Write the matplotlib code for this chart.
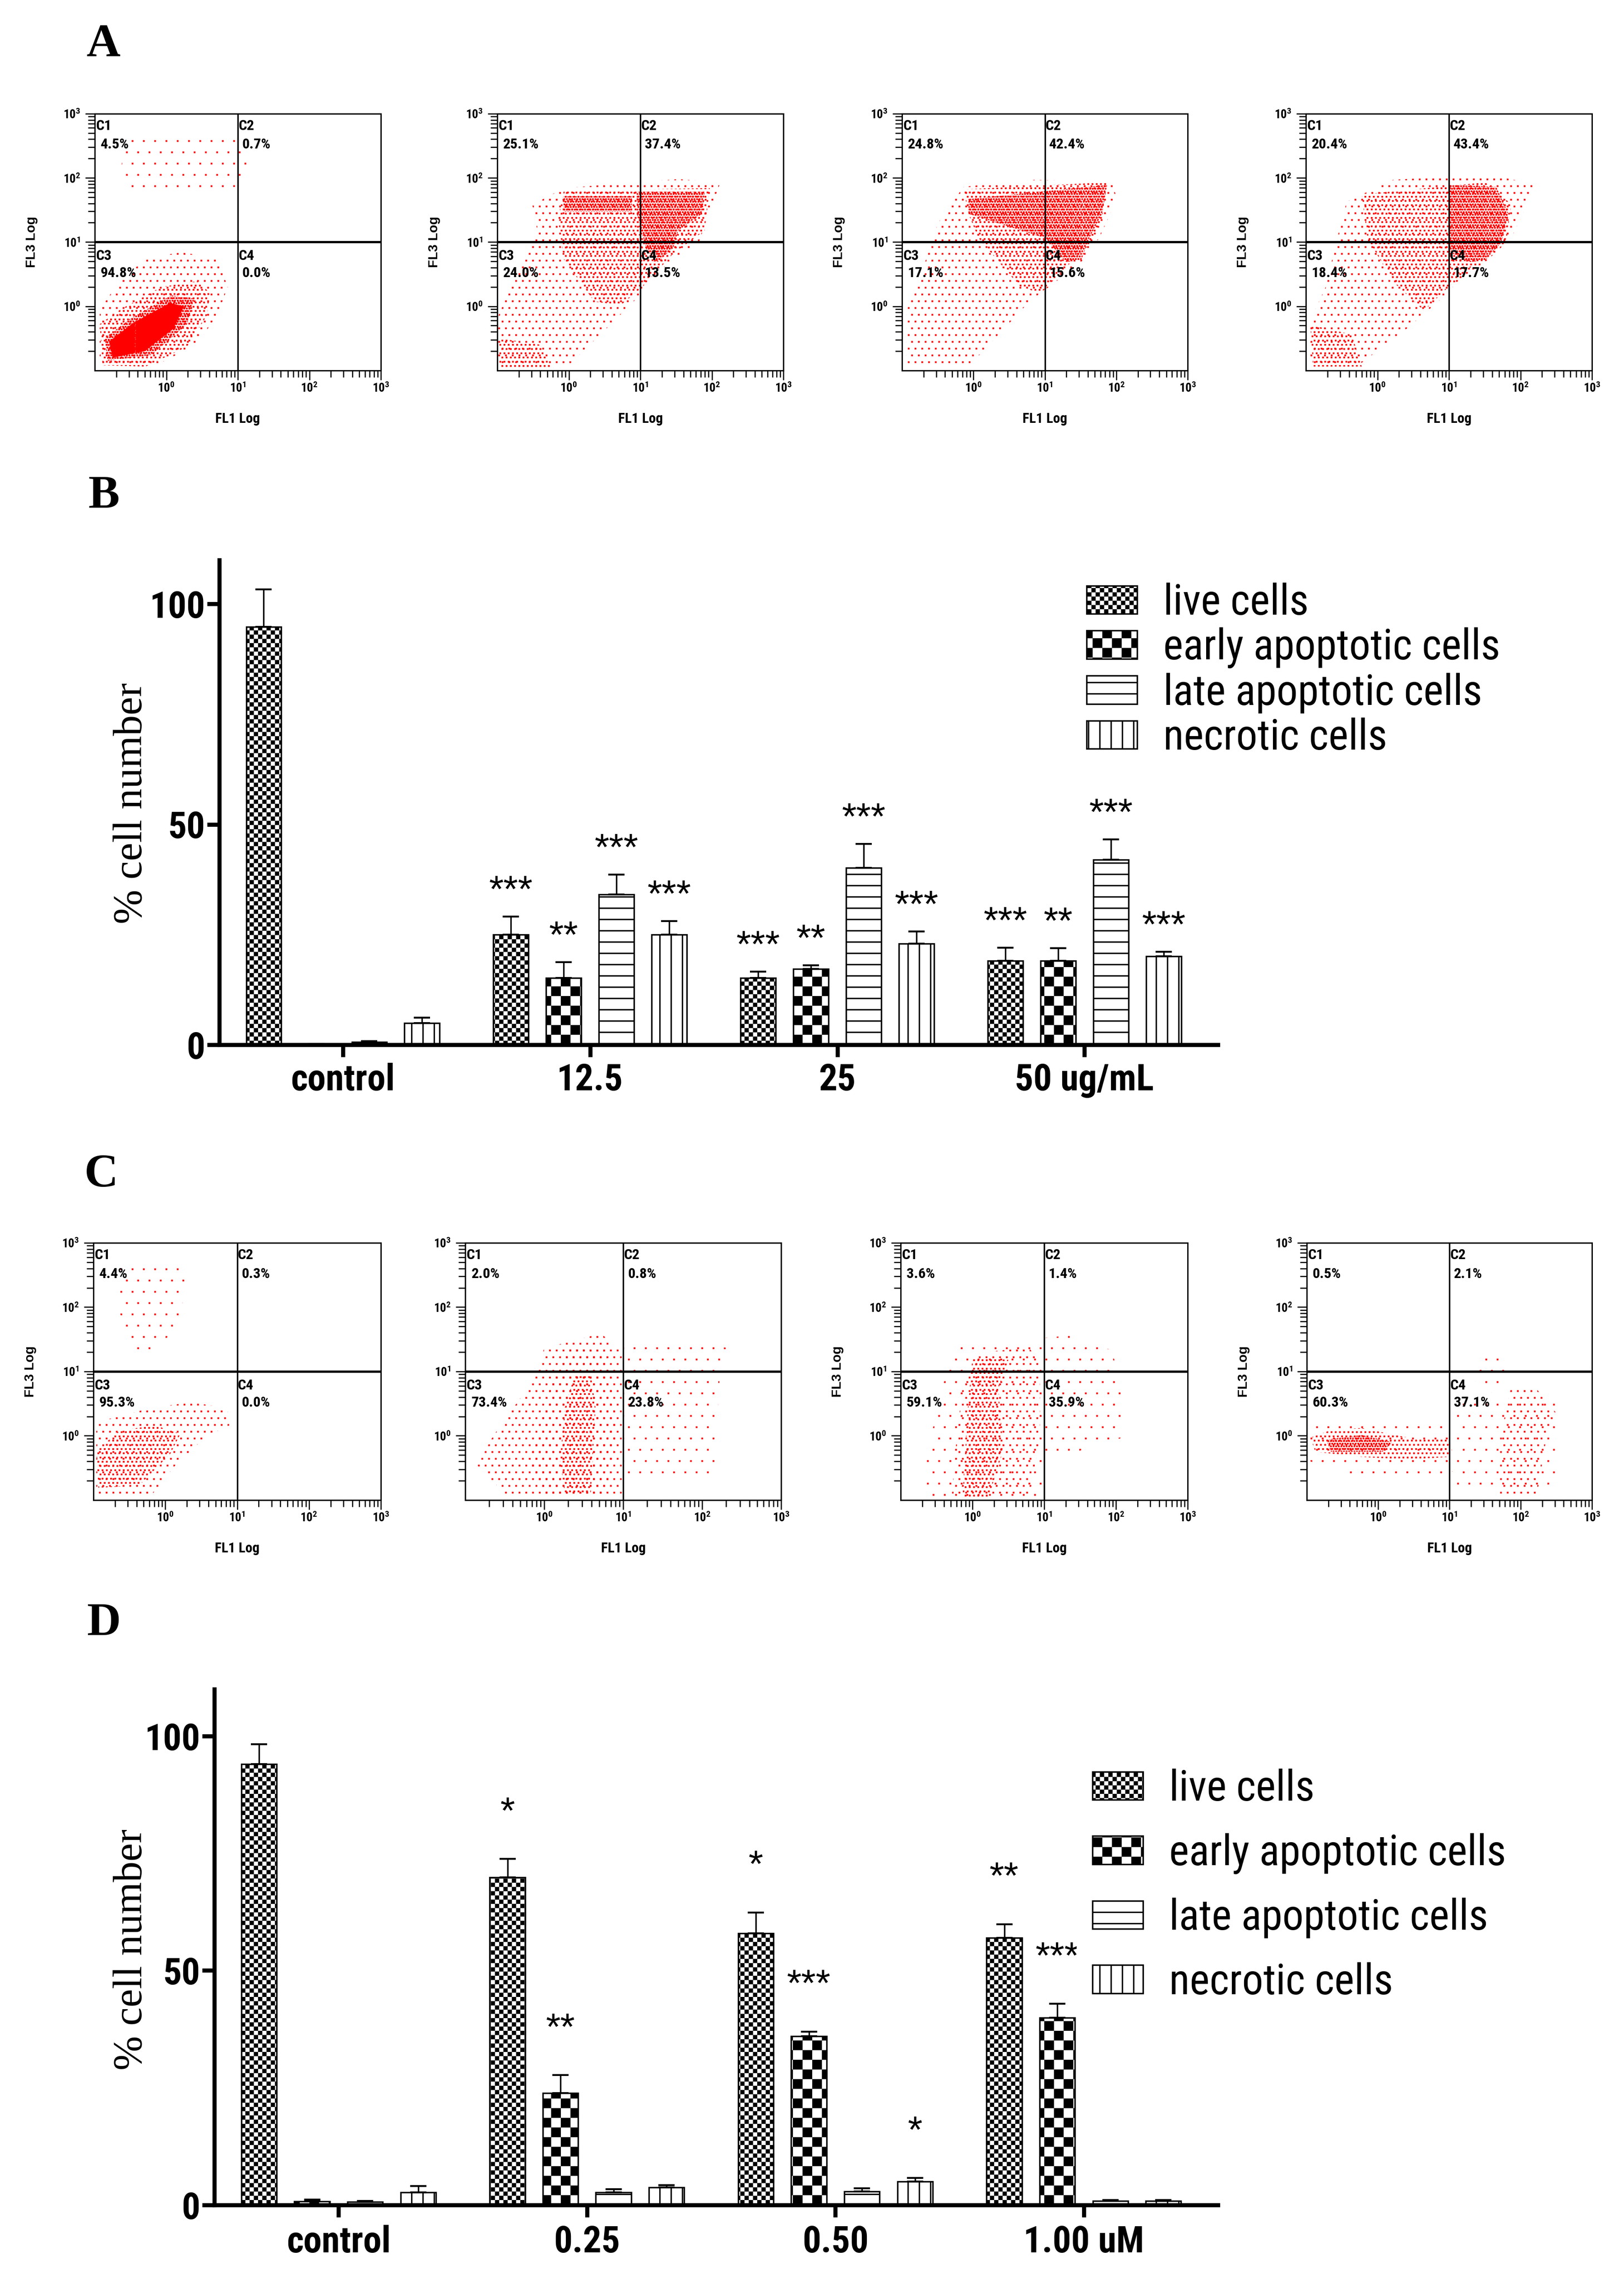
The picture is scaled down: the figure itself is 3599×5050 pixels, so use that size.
import warnings
import numpy as np
import matplotlib
matplotlib.use('Agg')
import matplotlib.pyplot as plt
import matplotlib.hatch as mhatch
from matplotlib.path import Path
from matplotlib.patches import Polygon, Patch
from matplotlib import font_manager
from matplotlib.ticker import FixedLocator, LogLocator, NullFormatter, LogFormatterMathtext

warnings.filterwarnings('ignore')

# ---------------- data ----------------
quadrant_names = ['C1', 'C2', 'C3', 'C4']
pct_ug = [[4.5, 0.7, 94.8, 0.0],
          [25.1, 37.4, 24.0, 13.5],
          [24.8, 42.4, 17.1, 15.6],
          [20.4, 43.4, 18.4, 17.7]]
pct_um = [[4.4, 0.3, 95.3, 0.0],
          [2.0, 0.8, 73.4, 23.8],
          [3.6, 1.4, 59.1, 35.9],
          [0.5, 2.1, 60.3, 37.1]]

# event clouds: (density level, outline in log10(FL1), log10(FL3))
cloud_ug_ctrl = [
    (1, [(-0.57, 2.66), (0.21, 2.7), (0.93, 2.66), (1.21, 2.17), (1.0, 1.86), (0.29, 1.81), (-0.5, 1.72), (-0.64, 2.08)]),
    (2, [(-0.93, -0.94), (-0.21, -0.96), (0.43, -0.59), (0.71, -0.14), (0.86, 0.3), (0.71, 0.75), (0.21, 0.84), (-0.29, 0.75), (-0.71, 0.3), (-0.93, -0.05)]),
    (3, [(-0.89, -0.92), (-0.29, -0.94), (0.29, -0.63), (0.57, -0.14), (0.61, 0.21), (0.43, 0.39), (-0.07, 0.3), (-0.64, -0.05), (-0.93, -0.28)]),
    (4, [(-0.82, -0.85), (-0.21, -0.76), (0.29, -0.28), (0.39, 0.12), (0.07, 0.17), (-0.5, -0.19), (-0.86, -0.5)]),
    (5, [(-0.75, -0.8), (-0.3, -0.7), (0.1, -0.35), (0.25, 0.0), (0.05, 0.05), (-0.45, -0.25), (-0.8, -0.55)]),
]
cloud_ug_125 = [
    (2, [(-0.99, -0.96), (-0.04, -0.96), (0.58, -0.29), (1.02, 0.2), (1.09, 0.38), (1.46, 0.73), (1.82, 1.0), (1.93, 1.36), (2.12, 1.93), (1.53, 1.98), (-0.07, 1.84), (-0.51, 1.58), (-0.44, 1.18), (-0.73, 0.51), (-0.99, -0.16)]),
    (3, [(-0.97, -0.5), (-0.4, -0.6), (-0.25, -0.95), (-0.97, -0.95)]),
    (3, [(-0.07, 1.8), (1.97, 1.84), (1.9, 1.18), (1.46, 0.82), (1.02, 0.29), (0.73, 0.02), (0.36, 0.07), (-0.07, 0.73), (-0.15, 1.36)]),
    (4, [(-0.07, 1.71), (0.88, 1.71), (0.88, 1.47), (-0.07, 1.47)]),
    (4, [(0.95, 1.78), (1.9, 1.78), (1.86, 1.44), (1.53, 1.18), (1.46, 0.91), (1.24, 0.69), (1.09, 0.87), (0.95, 1.44)]),
]
cloud_ug_25 = [
    (2, [(-0.94, -0.94), (-0.07, -0.94), (0.79, 0.08), (1.15, 0.38), (1.51, 0.69), (1.76, 1.06), (2.01, 1.67), (1.94, 1.93), (0.86, 1.97), (-0.14, 1.86), (-0.5, 1.29), (-0.79, 0.31), (-0.94, -0.07)]),
    (3, [(-0.14, 1.82), (1.87, 1.93), (1.8, 1.37), (1.65, 0.99), (1.37, 0.69), (0.94, 0.2), (0.65, 0.31), (0.07, 1.06), (-0.07, 1.44)]),
    (4, [(-0.07, 1.67), (1.87, 1.89), (1.8, 1.44), (1.62, 1.06), (1.51, 0.72), (1.29, 0.69), (1.01, 1.06), (-0.07, 1.44)]),
]
cloud_ug_50 = [
    (2, [(-0.94, -0.94), (-0.29, -0.94), (0.43, -0.33), (0.94, 0.16), (1.37, 0.69), (1.87, 1.06), (2.23, 1.89), (1.58, 2.05), (0.22, 1.97), (-0.43, 1.63), (-0.58, 0.99), (-0.72, 0.31), (-0.94, -0.22)]),
    (3, [(-0.22, 1.74), (1.51, 1.93), (1.87, 1.59), (1.8, 0.99), (1.51, 0.69), (1.0, 0.31), (0.65, -0.07), (0.22, 0.38), (-0.14, 1.06)]),
    (3, [(-0.94, -0.29), (-0.36, -0.44), (-0.22, -0.94), (-0.9, -0.94)]),
    (4, [(1.01, 1.89), (1.66, 1.86), (1.83, 1.44), (1.73, 0.99), (1.51, 0.72), (1.3, 0.69), (1.01, 0.84)]),
]
cloud_um_ctrl = [
    (1, [(-0.64, 2.61), (0.29, 2.61), (0.21, 1.76), (-0.21, 1.23), (-0.43, 1.23), (-0.64, 1.94)]),
    (2, [(-0.96, -0.95), (-0.21, -0.95), (0.14, -0.46), (0.57, -0.01), (0.89, 0.16), (0.86, 0.43), (0.36, 0.52), (-0.21, 0.43), (-0.96, 0.21)]),
    (3, [(-0.93, -0.81), (-0.36, -0.77), (0.07, -0.28), (0.21, 0.03), (-0.14, 0.16), (-0.64, 0.08), (-0.96, -0.24)]),
]
cloud_um_025 = [
    (1, [(1.0, -0.6), (2.16, -0.6), (2.22, 0.88), (2.35, 1.36), (1.63, 1.5), (1.0, 1.4)]),
    (2, [(-0.46, -0.95), (0.98, -0.95), (0.98, 1.3), (0.72, 1.59), (0.0, 1.36), (-0.13, 0.88), (-0.65, -0.01), (-0.85, -0.46)]),
    (2, [(0.0, -0.95), (0.78, -0.95), (0.92, -0.01), (0.85, 0.88), (0.78, 1.32), (0.33, 1.36), (0.13, 0.96), (0.0, 0.43), (-0.2, -0.46)]),
    (3, [(0.26, -0.9), (0.59, -0.9), (0.65, 0.43), (0.59, 0.96), (0.39, 0.96), (0.26, 0.43), (0.2, -0.37)]),
]
cloud_um_050 = [
    (1, [(-0.65, -0.97), (1.01, -0.97), (1.01, -0.4), (2.09, -0.03), (2.09, 0.73), (1.94, 1.33), (1.37, 1.56), (0.58, 1.48), (-0.22, 1.41), (-0.43, 0.73), (-0.58, -0.03), (-0.72, -0.78)]),
    (2, [(-0.29, -0.97), (0.79, -0.97), (0.94, -0.03), (0.94, 1.11), (0.79, 1.37), (0.07, 1.29), (-0.14, 0.73), (-0.22, -0.03)]),
    (3, [(-0.14, -0.97), (0.22, -0.97), (0.43, -0.22), (0.36, 0.73), (0.5, 1.18), (0.0, 1.22), (-0.07, 0.35)]),
]
cloud_um_100 = [
    (1, [(-0.95, 0.16), (0.06, 0.28), (0.99, 0.28), (1.06, -0.55), (0.42, -0.71), (-0.3, -0.63), (-0.95, -0.4)]),
    (1, [(1.06, 0.5), (2.5, 0.5), (2.5, -0.78), (1.06, -0.78)]),
    (1, [(1.35, 0.88), (1.5, 1.26), (1.78, 1.26), (1.78, 0.73), (1.5, 0.65)]),
    (2, [(1.71, -0.97), (2.22, -0.97), (2.36, -0.03), (2.5, 0.35), (2.22, 0.73), (1.86, 0.73), (1.71, -0.03)]),
    (3, [(-0.95, -0.03), (-0.66, 0.09), (-0.23, 0.12), (0.42, -0.03), (0.99, -0.06), (0.99, -0.33), (0.42, -0.37), (-0.23, -0.33), (-0.88, -0.25)]),
    (4, [(-0.73, -0.06), (-0.23, 0.01), (0.2, -0.1), (0.06, -0.25), (-0.66, -0.25)]),
]

series_names = ['live cells', 'early apoptotic cells', 'late apoptotic cells', 'necrotic cells']

groups_b = ['control', '12.5', '25', '50 ug/mL']
live_b = [94.8, 25.0, 15.1, 19.0]
live_b_err = [8.5, 4.1, 1.5, 3.0]
early_b = [0.0, 15.1, 17.2, 19.0]
early_b_err = [0.2, 3.6, 0.8, 2.9]
late_b = [0.6, 34.1, 40.1, 42.0]
late_b_err = [0.2, 4.5, 5.5, 4.6]
necro_b = [4.9, 25.0, 22.9, 20.1]
necro_b_err = [1.2, 3.0, 2.8, 1.0]
stars_b = [['', '***', '***', '***'],
           ['', '**', '**', '**'],
           ['', '***', '***', '***'],
           ['', '***', '***', '***']]

groups_d = ['control', '0.25', '0.50', '1.00 uM']
live_d = [94.0, 69.9, 57.9, 57.0]
live_d_err = [4.3, 3.9, 4.5, 2.9]
early_d = [0.8, 23.9, 36.0, 39.9]
early_d_err = [0.4, 3.8, 1.0, 3.0]
late_d = [0.7, 2.7, 2.9, 0.9]
late_d_err = [0.2, 0.7, 0.7, 0.2]
necro_d = [2.7, 3.8, 5.0, 0.9]
necro_d_err = [1.3, 0.4, 0.8, 0.2]
stars_d = [['', '*', '*', '**'],
           ['', '**', '***', '***'],
           ['', '', '', ''],
           ['', '', '*', '']]


# ---------------- custom hatches ----------------
SQ_CODES = [Path.MOVETO, Path.LINETO, Path.LINETO, Path.LINETO, Path.CLOSEPOLY]


class CheckerHatch(mhatch.HatchPatternBase):
    # 'c' * n -> n dark/light pairs per hatch unit
    def __init__(self, hatch, density):
        self.periods = hatch.count('c')
        cells = 2 * self.periods
        self.num_vertices = cells * cells // 2 * 5

    def set_vertices_and_codes(self, vertices, codes):
        cells = 2 * self.periods
        s = 1.0 / cells
        ins = 0.005
        sq = np.array([[ins, ins], [s - ins, ins], [s - ins, s - ins], [ins, s - ins], [ins, ins]])
        k = 0
        for i in range(cells):
            for j in range(cells):
                if (i + j) % 2 == 0:
                    vertices[k:k + 5] = sq + [i * s, j * s]
                    codes[k:k + 5] = SQ_CODES
                    k += 5


class StippleHatch(mhatch.HatchPatternBase):
    # 'p' * n -> 2n staggered rows of tiny dots per hatch unit
    def __init__(self, hatch, density):
        self.rows = 2 * hatch.count('p')
        self.num_vertices = self.rows * self.rows * 5

    def set_vertices_and_codes(self, vertices, codes):
        n = self.rows
        step = 1.0 / n
        d = 0.003
        sq = np.array([[-d, -d], [d, -d], [d, d], [-d, d], [-d, -d]])
        k = 0
        for r in range(n):
            for c in range(n):
                vertices[k:k + 5] = sq + [(c + 0.25 + 0.5 * (r % 2)) * step, (r + 0.5) * step]
                codes[k:k + 5] = SQ_CODES
                k += 5


mhatch._hatch_types.append(CheckerHatch)
mhatch._hatch_types.append(StippleHatch)

# ---------------- fonts / style ----------------
have = {f.name for f in font_manager.fontManager.ttflist}
NARROW, STRETCH = 'Liberation Sans', 'normal'
for cand in ['Liberation Sans Narrow', 'Arial Narrow', 'Roboto Condensed',
             'Open Sans Condensed', 'Noto Sans Condensed', 'DejaVu Sans Condensed']:
    if cand in have:
        NARROW = cand
        break
else:
    for f in font_manager.fontManager.ttflist:
        if f.stretch == 'condensed' and f.name in ('DejaVu Sans', 'Noto Sans', 'Open Sans', 'Roboto'):
            NARROW, STRETCH = f.name, 'condensed'
            break
SANS = 'Liberation Sans'
SERIF = 'Liberation Serif'
plt.rcParams['font.family'] = SANS
plt.rcParams['mathtext.default'] = 'regular'
plt.rcParams['hatch.linewidth'] = 0.75

W, H, DPI = 3599, 5050, 300
fig = plt.figure(figsize=((W + 0.2) / DPI, (H + 0.2) / DPI), dpi=DPI)

DOTS = {1: 6, 2: 10, 3: 16, 4: 26, 5: 46}
HATCHES = ['c' * 16, 'c' * 7, '--', '||']
BAR_W = 0.142
BAR_OFFSETS = (np.arange(4) - 1.5) * 0.2135


def px_axes(x0, y0, x1, y1):
    return fig.add_axes([x0 / W, 1 - y1 / H, (x1 - x0) / W, (y1 - y0) / H])


def flow_panel(box, clouds, pcts, ylabel=True):
    ax = px_axes(*box)
    ax.set_xscale('log')
    ax.set_yscale('log')
    ax.set_xlim(0.1, 1000)
    ax.set_ylim(0.1, 1000)
    for level, pts in clouds:
        poly = Polygon(10.0 ** np.array(pts), closed=True, facecolor='none',
                       edgecolor='red', linewidth=0, hatch='p' * DOTS[level])
        if hasattr(poly, 'set_hatch_linewidth'):
            poly.set_hatch_linewidth(0.5)
        ax.add_patch(poly)
    ax.axhline(10, color='black', lw=1.2)
    ax.axvline(10, color='black', lw=0.8)
    for spine in ax.spines.values():
        spine.set_linewidth(0.7)
    for axis in (ax.xaxis, ax.yaxis):
        axis.set_major_locator(FixedLocator([1, 10, 100, 1000]))
        axis.set_major_formatter(LogFormatterMathtext())
        axis.set_minor_locator(LogLocator(base=10, subs=np.arange(2, 10), numticks=12))
        axis.set_minor_formatter(NullFormatter())
    ax.tick_params(which='both', direction='out', width=0.6, labelsize=6.5,
                   labelfontfamily=NARROW)
    ax.tick_params(which='major', length=5)
    ax.tick_params(which='minor', length=3.5)
    ax.tick_params(axis='x', pad=1)
    ax.tick_params(axis='y', pad=2.5)
    plt.setp(ax.get_xticklabels() + ax.get_yticklabels(), fontweight='bold', fontstretch=STRETCH)
    # quadrant names and percentages
    spots = [(0.004, 0.952, 0.02, 0.88), (0.502, 0.952, 0.515, 0.88),
             (0.004, 0.446, 0.02, 0.379), (0.502, 0.446, 0.515, 0.379)]
    for name, v, (nx, ny, px, py) in zip(quadrant_names, pcts, spots):
        ax.text(nx, ny, name, transform=ax.transAxes, ha='left', va='center',
                fontsize=7.8, family=NARROW, fontstretch=STRETCH, fontweight='bold')
        ax.text(px, py, f'{v:.1f}%', transform=ax.transAxes, ha='left', va='center',
                fontsize=7.8, family=NARROW, fontstretch=STRETCH, fontweight='bold')
    x0, y0, x1, y1 = box
    fig.text((x0 + x1) / 2 / W, 1 - (y1 + 107) / H, 'FL1 Log', ha='center', va='center',
             fontsize=7.5, family=NARROW, fontstretch=STRETCH, fontweight='bold')
    if ylabel:
        fig.text((x0 - 140) / W, 1 - (y0 + y1) / 2 / H, 'FL3 Log', rotation=90,
                 ha='center', va='center', fontsize=7, family=SANS, fontweight='bold')
    return ax


def bar_panel(box, groups, vals, errs, stars, star_gap, ylab_pos, leg_handle_xy, leg_spacing, label_pad):
    ax = px_axes(*box)
    x = np.arange(len(groups))
    for k in range(4):
        xs = x + BAR_OFFSETS[k]
        ax.bar(xs, vals[k], width=BAR_W, color='white', edgecolor='black',
               linewidth=0.8, hatch=HATCHES[k], zorder=2)
        ax.errorbar(xs, vals[k], yerr=[np.zeros(len(x)), errs[k]], fmt='none',
                    ecolor='black', elinewidth=0.8, capsize=4.4, capthick=1.0, zorder=3)
        for j, s in enumerate(stars[k]):
            if s:
                ax.text(xs[j], vals[k][j] + errs[k][j] + star_gap, s, ha='center',
                        va='center', fontsize=20, family=SANS, zorder=4)
    ax.set_xlim(-0.5, 3.54)
    ax.set_ylim(0, 110)
    for side in ('top', 'right'):
        ax.spines[side].set_visible(False)
    for side in ('left', 'bottom'):
        ax.spines[side].set_linewidth(2.2)
    ax.set_yticks([0, 50, 100])
    ax.set_xticks(x)
    ax.set_xticklabels(groups)
    ax.tick_params(length=6.5, width=2.2, labelsize=19.5, labelfontfamily=NARROW)
    ax.tick_params(axis='y', pad=1)
    ax.tick_params(axis='x', pad=label_pad)
    plt.setp(ax.get_xticklabels() + ax.get_yticklabels(), fontweight='bold', fontstretch=STRETCH)
    fig.text(ylab_pos[0] / W, 1 - ylab_pos[1] / H, '% cell number', rotation=90,
             ha='center', va='center', fontsize=22, family=SERIF)
    # legend
    fs = 22.5
    fs_px = fs * DPI / 72
    bp = 0.38
    hx, hy = leg_handle_xy
    handles = [Patch(facecolor='white', edgecolor='black', linewidth=0.8, hatch=h)
               for h in HATCHES]
    ax.legend(handles, series_names, loc='upper left',
              bbox_to_anchor=((hx - bp * fs_px) / W, 1 - (hy - bp * fs_px) / H),
              bbox_transform=fig.transFigure,
              prop={'family': NARROW, 'size': fs, 'stretch': STRETCH},
              frameon=True, fancybox=False, framealpha=1, facecolor='white',
              edgecolor='none', borderpad=bp, borderaxespad=0, handlelength=1.19,
              handleheight=0.65, handletextpad=0.62, labelspacing=leg_spacing)
    return ax


# ---------------- panels ----------------
row_a = [(210, 252, 844, 821), (1102, 252, 1736, 821), (1999, 252, 2632, 821), (2894, 252, 3528, 821)]
row_c = [(207, 2754, 844, 3324), (1031, 2754, 1731, 3324), (1996, 2754, 2632, 3324), (2896, 2754, 3528, 3324)]

for box, cl, pc in zip(row_a, [cloud_ug_ctrl, cloud_ug_125, cloud_ug_25, cloud_ug_50], pct_ug):
    flow_panel(box, cl, pc)
for i, (box, cl, pc) in enumerate(zip(row_c, [cloud_um_ctrl, cloud_um_025, cloud_um_050, cloud_um_100], pct_um)):
    flow_panel(box, cl, pc, ylabel=(i != 1))

bar_panel((486, 1241, 2699, 2315), groups_b,
          [live_b, early_b, late_b, necro_b],
          [live_b_err, early_b_err, late_b_err, necro_b_err],
          stars_b, 5.6, (292, 1780), (2408, 1291), 0.1, 3)
bar_panel((475, 3743, 2699, 4886), groups_d,
          [live_d, early_d, late_d, necro_d],
          [live_d_err, early_d_err, late_d_err, necro_d_err],
          stars_d, 9.7, (292, 4320), (2421, 3919), 0.56, 4)

for letter, (lx, ly) in zip('ABCD', [(230, 99), (230, 1100), (224, 2604), (230, 3598)]):
    fig.text(lx / W, 1 - ly / H, letter, ha='center', va='center', fontsize=25,
             family=SERIF, fontweight='bold')

fig.savefig('out.png', dpi=DPI, facecolor='white')
